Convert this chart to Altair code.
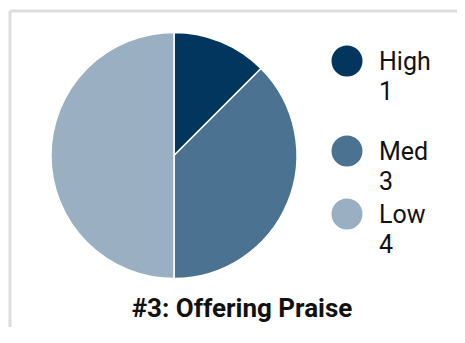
import altair as alt
import pandas as pd

categories = ["High", "Med", "Low"]
counts = [1, 3, 4]
colors = ["#02365f", "#4c7291", "#9aafc2"]
title_text = "#3: Offering Praise"

W, H = 447, 316

df = pd.DataFrame({"level": categories, "count": counts,
                   "count_label": [str(c) for c in counts],
                   "idx": list(range(len(categories)))})

color_enc = alt.Color("level:N", scale=alt.Scale(domain=categories, range=colors), legend=None)

pie = alt.Chart(df).mark_arc(radius=123, stroke="white", strokeWidth=1.5).encode(
    theta=alt.Theta("count:Q", stack=True),
    order=alt.Order("idx:Q"),
    color=color_enc,
    x=alt.value(164), y=alt.value(144.5),
)

# custom legend: entries placed by a piecewise y scale over the entry index
legend_y = alt.Y("idx:Q", scale=alt.Scale(domain=[0, 1, 2], range=[50, 140, 203]), axis=None)
base = alt.Chart(df)
leg_sym = base.mark_circle(size=960, opacity=1).encode(
    x=alt.value(337), y=legend_y, color=color_enc)
leg_name = base.mark_text(align="left", baseline="alphabetic", font="Roboto",
                          fontSize=25, color="#111111", dy=9).encode(
    x=alt.value(369), y=legend_y, text="level:N")
leg_count = base.mark_text(align="left", baseline="alphabetic", font="Roboto",
                           fontSize=25, color="#111111", dy=39).encode(
    x=alt.value(369), y=legend_y, text="count_label:N")

title = alt.Chart(pd.DataFrame({"t": [title_text]})).mark_text(
    font="Roboto", fontWeight="bold", fontSize=26, color="#111111",
    align="center", baseline="alphabetic",
).encode(text="t:N", x=alt.value(232), y=alt.value(306))

# card frame (top and left edges)
frame_df = pd.DataFrame({"f": [0]})
frame_top = alt.Chart(frame_df).mark_rule(color="#dddddd", strokeWidth=3).encode(
    x=alt.value(0), x2=alt.value(W), y=alt.value(0))
frame_left = alt.Chart(frame_df).mark_rule(color="#dddddd", strokeWidth=3).encode(
    x=alt.value(0), y=alt.value(0), y2=alt.value(H))

chart = alt.layer(frame_top, frame_left, pie, leg_sym, leg_name, leg_count, title).properties(
    width=W, height=H,
    autosize=alt.AutoSizeParams(type="none"),
    padding={"left": 2, "top": 3, "right": 0, "bottom": 0},
).configure_view(stroke=None)

chart.save("out.html", embed_options={"renderer": "svg", "actions": False})
